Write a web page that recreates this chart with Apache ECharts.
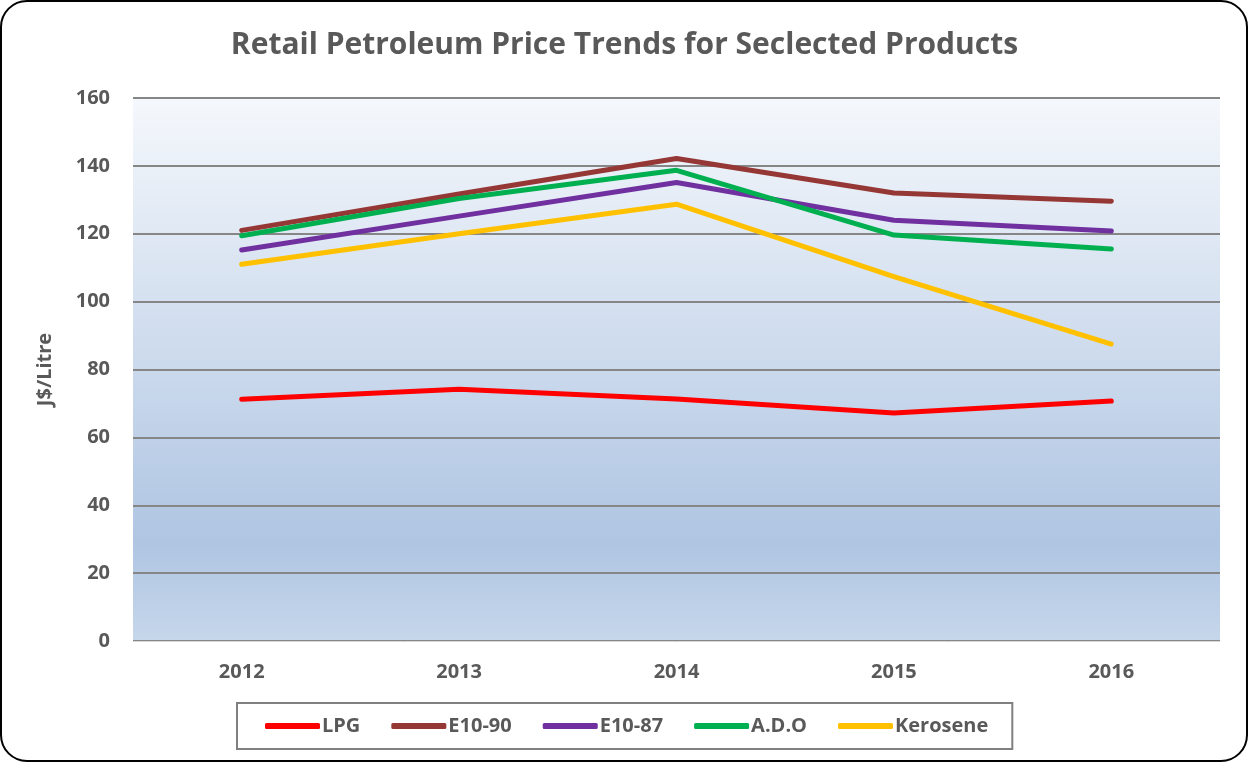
<!DOCTYPE html>
<html>
<head>
<meta charset="utf-8">
<title>Retail Petroleum Price Trends</title>
<script src="https://cdn.jsdelivr.net/npm/echarts@6/dist/echarts.min.js"></script>
<style>
  html, body { margin: 0; padding: 0; background: #fff; }
  #chart { width: 1249px; height: 763px; }
</style>
</head>
<body>
<div id="chart"></div>
<script>
  // data
  var years = ['2012', '2013', '2014', '2015', '2016'];
  var lpg = [71.2, 74.2, 71.3, 67.2, 70.7];
  var e1090 = [121.0, 131.7, 142.2, 132.0, 129.6];
  var e1087 = [115.2, 125.2, 135.1, 124.0, 120.8];
  var ado = [119.4, 130.4, 138.7, 119.6, 115.5];
  var kerosene = [111.0, 120.0, 128.7, 107.4, 87.5];
  var yTicks = [0, 20, 40, 60, 80, 100, 120, 140, 160];

  var font = '"Open Sans", Lato, sans-serif';
  var grey = '#595959';

  function line(name, color, data) {
    return {
      name: name,
      type: 'line',
      data: data,
      symbol: 'none',
      lineStyle: { color: color, width: 5, cap: 'round', join: 'round' },
      itemStyle: { color: color }
    };
  }

  var chart = echarts.init(document.getElementById('chart'));
  chart.setOption({
    animation: false,
    textStyle: { fontFamily: font },
    title: {
      text: 'Retail Petroleum Price Trends for Seclected Products',
      left: 'center',
      top: 25,
      textStyle: { fontSize: 30, fontWeight: 'bold', color: grey, fontFamily: font }
    },
    graphic: [{
      type: 'rect',
      shape: { x: 1, y: 1, width: 1246, height: 760, r: 26 },
      style: { fill: 'none', stroke: '#000', lineWidth: 2 },
      z: 100
    }],
    grid: {
      left: 133, right: 29, top: 98, bottom: 122,
      show: true,
      borderWidth: 0,
      backgroundColor: new echarts.graphic.LinearGradient(0, 0, 0, 1, [
        { offset: 0, color: '#f5f8fc' },
        { offset: 0.82, color: '#afc5e2' },
        { offset: 1, color: '#c6d7eb' }
      ])
    },
    legend: {
      data: ['LPG', 'E10-90', 'E10-87', 'A.D.O', 'Kerosene'],
      left: 237,
      top: 703,
      padding: [13, 24, 13, 28],
      icon: 'roundRect',
      itemWidth: 55,
      itemHeight: 6,
      itemGap: 31,
      borderColor: '#808080',
      borderWidth: 2,
      textStyle: { fontSize: 20, fontWeight: 'bold', color: grey, fontFamily: font, padding: [0, 0, 0, -3] }
    },
    xAxis: {
      type: 'category',
      data: years,
      boundaryGap: true,
      axisLine: { show: true, lineStyle: { color: '#d9d9d9', width: 1 } },
      axisTick: { show: false },
      axisLabel: { fontSize: 20, fontWeight: 'bold', color: grey, margin: 21 }
    },
    yAxis: {
      type: 'value',
      min: yTicks[0],
      max: yTicks[yTicks.length - 1],
      interval: 20,
      name: 'J$/Litre',
      nameLocation: 'middle',
      nameGap: 78,
      nameTextStyle: { fontSize: 20, fontWeight: 'bold', color: grey },
      axisLine: { show: false },
      axisTick: { show: false },
      axisLabel: { fontSize: 20, fontWeight: 'bold', color: grey, margin: 23 },
      splitLine: { lineStyle: { color: '#868686', width: 2 } }
    },
    series: [
      line('LPG', '#ff0000', lpg),
      line('E10-90', '#953735', e1090),
      line('E10-87', '#7030a0', e1087),
      line('A.D.O', '#00b050', ado),
      line('Kerosene', '#ffc000', kerosene)
    ]
  });
</script>
</body>
</html>
